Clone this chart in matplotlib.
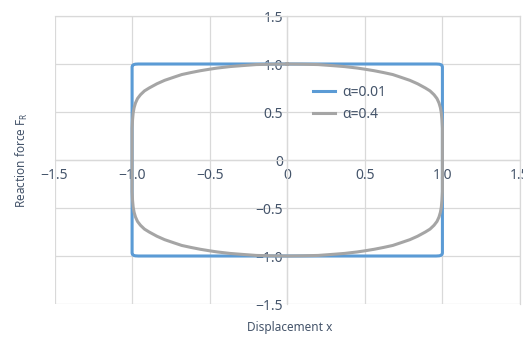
import numpy as np
import matplotlib
matplotlib.use("Agg")
import matplotlib.pyplot as plt

# First-quadrant outline points (x, F), mirrored for full loops
gray_x = [0.0, 0.1, 0.2, 0.3, 0.37, 0.45, 0.5, 0.56, 0.62, 0.68, 0.73, 0.79, 0.84, 0.89, 0.92, 0.946, 0.965, 0.978, 0.987, 0.993, 0.997, 1.0, 1.0]
gray_y = [1.0, 0.998, 0.994, 0.982, 0.973, 0.958, 0.946, 0.93, 0.911, 0.89, 0.863, 0.83, 0.794, 0.75, 0.72, 0.68, 0.64, 0.594, 0.545, 0.49, 0.42, 0.33, 0.0]
blue_x = [0.0, 0.5, 0.96, 0.98, 0.99, 0.997, 1.0, 1.0, 1.0]
blue_y = [1.0, 1.0, 1.0, 0.998, 0.993, 0.985, 0.97, 0.5, 0.0]

series_labels = ["α=0.01", "α=0.4"]
ticks = [-1.5, -1.0, -0.5, 0.0, 0.5, 1.0, 1.5]
tick_labels = ["\u22121.5", "\u22121.0", "\u22120.5", "0", "0.5", "1.0", "1.5"]

def full_loop(qx, qy):
    qx = np.asarray(qx); qy = np.asarray(qy)
    x = np.concatenate([qx, qx[::-1], -qx, -qx[::-1]])
    y = np.concatenate([qy, -qy[::-1], -qy, qy[::-1]])
    return x, y

text_color = "#44546a"
grid_color = "#d9d9d9"
plt.rcParams['font.family'] = ['Noto Sans', 'DejaVu Sans']

fig = plt.figure(figsize=(5.23, 3.38), dpi=100)
ax = fig.add_axes([54.5/523, 34/338, 465.5/523, 288/338])
ax.set_xlim(-1.5, 1.5)
ax.set_ylim(-1.5, 1.5)

bx, by = full_loop(blue_x, blue_y)
gx, gy = full_loop(gray_x, gray_y)
ax.plot(bx, by, color="#5b9bd5", lw=2.2, label=series_labels[0], solid_joinstyle='round', zorder=3)
ax.plot(gx, gy, color="#a5a5a5", lw=2.2, label=series_labels[1], solid_joinstyle='round', zorder=4)

ax.set_xticks(ticks)
ax.set_yticks(ticks)
ax.set_xticklabels(tick_labels)
ax.set_yticklabels(tick_labels)
ax.grid(True, color=grid_color, lw=0.9, zorder=0)
ax.set_axisbelow(True)

ax.spines['left'].set_position('zero')
ax.spines['bottom'].set_position('zero')
for s in ax.spines.values():
    s.set_color(grid_color)
    s.set_linewidth(0.9)
ax.tick_params(axis='both', length=0, colors=text_color, labelsize=10)
ax.tick_params(axis='x', pad=6)
ax.tick_params(axis='y', pad=3)
for lbl in ax.get_xticklabels() + ax.get_yticklabels():
    lbl.set_clip_on(False)

ax.set_xlabel("Displacement x", color=text_color, fontsize=8.5)
ax.xaxis.set_label_coords(0.505, -0.058)
ax.set_ylabel("Reaction force F$_\\mathregular{R}$", color=text_color, fontsize=8.5)
ax.yaxis.set_label_coords(-0.053, 0.5)

leg = ax.legend(loc='upper left', bbox_to_anchor=(0.555, 0.76), frameon=False,
                fontsize=10, handlelength=1.6, handletextpad=0.5,
                labelspacing=0.52, borderpad=0, borderaxespad=0)
for t in leg.get_texts():
    t.set_color(text_color)

fig.savefig("out.png", dpi=100)
